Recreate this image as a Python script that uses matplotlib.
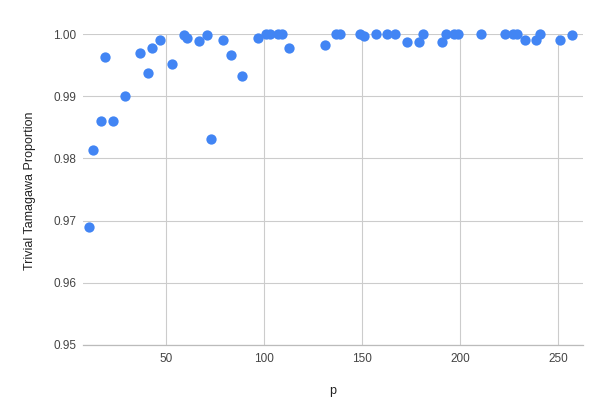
import matplotlib.pyplot as plt

# -------------------------------
# DATA
# -------------------------------
p = [11, 13, 17, 19, 23, 29, 37, 41, 43, 47,
     53, 59, 61, 67, 71, 73, 79, 83, 89, 97,
     101, 103, 107, 109, 113, 131, 137, 139, 149, 151,
     157, 163, 167, 173, 179, 181, 191, 193, 197, 199,
     211, 223, 227, 229, 233, 239, 241, 251, 257]

proportion = [0.9690, 0.9813, 0.9860, 0.9963, 0.9860, 0.9901, 0.9970, 0.9937, 0.9978, 0.9990,
              0.9952, 0.9998, 0.9994, 0.9989, 0.9999, 0.9832, 0.9991, 0.9967, 0.9933, 0.9994,
              1.0000, 1.0000, 1.0000, 1.0000, 0.9978, 0.9982, 1.0000, 1.0000, 1.0000, 0.9997,
              1.0000, 1.0000, 1.0000, 0.9987, 0.9987, 1.0000, 0.9988, 1.0000, 1.0000, 1.0000,
              1.0000, 1.0000, 1.0000, 1.0000, 0.9990, 0.9990, 1.0000, 0.9991, 0.9998]

x_ticks = [50, 100, 150, 200, 250]
y_ticks = [0.95, 0.96, 0.97, 0.98, 0.99, 1.00]

plt.rcParams['font.family'] = ['Liberation Sans', 'DejaVu Sans']

fig = plt.figure(figsize=(6, 4.17), dpi=100)
ax = fig.add_axes([0.138, 0.173, 0.833, 0.745])

ax.scatter(p, proportion, s=55, color='#4285F4', zorder=3, clip_on=False, linewidths=0)

ax.set_xlim(7.6, 262.6)
ax.set_ylim(0.95, 1.00)
ax.set_xticks(x_ticks)
ax.set_yticks(y_ticks)
ax.set_yticklabels([f'{v:.2f}' for v in y_ticks])

ax.grid(True, color='#cccccc', linewidth=0.8, zorder=0)
ax.set_axisbelow(True)

for side in ['top', 'right', 'left']:
    ax.spines[side].set_visible(False)
ax.spines['bottom'].set_color('#bbbbbb')
ax.spines['bottom'].set_linewidth(0.9)

ax.tick_params(axis='both', length=0, labelsize=8.5, labelcolor='#444444')
ax.tick_params(axis='x', pad=6)
ax.tick_params(axis='y', pad=4.5)

ax.set_xlabel('p', fontsize=9, color='#222222', labelpad=14.5)
ax.set_ylabel('Trivial Tamagawa Proportion', fontsize=9, color='#222222')
ax.yaxis.set_label_coords(-0.094, 0.497)

plt.savefig('out.png', dpi=100)
